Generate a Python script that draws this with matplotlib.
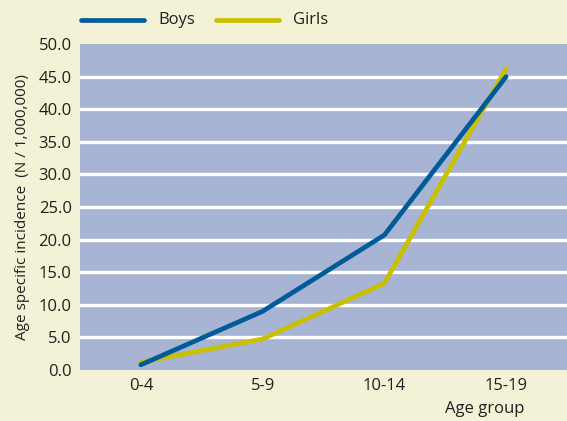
import numpy as np
import matplotlib.pyplot as plt

plt.rcParams['font.family'] = ['Open Sans', 'DejaVu Sans']

grupos = ['0-4', '5-9', '10-14', '15-19']
meninos = [0.8, 9.0, 20.7, 45.0]
meninas = [1.2, 4.75, 13.3, 46.2]

fundo = '#f3f1d6'
area = '#a7b4d3'
cor_boys = '#005b98'
cor_girls = '#c9c000'
texto = '#231f20'

fig = plt.figure(figsize=(5.67, 4.21), dpi=100, facecolor=fundo)
ax = fig.add_axes([80 / 567, 1 - 370 / 421, 487 / 567, 326 / 421])
ax.set_facecolor(area)

x = np.arange(len(grupos))
ax.plot(x, meninos, color=cor_boys, lw=3.4, solid_capstyle='round', zorder=3)
ax.plot(x, meninas, color=cor_girls, lw=3.4, solid_capstyle='round', zorder=2)

ax.set_xlim(-0.5, 3.5)
ax.set_ylim(0, 50)
ax.set_yticks(np.arange(0, 51, 5))
ax.set_yticklabels(['%.1f' % v for v in np.arange(0, 51, 5)], fontsize=12)
ax.set_xticks(x)
ax.set_xticklabels(grupos, fontsize=12)
for v in np.arange(5, 50, 5):
    ax.axhline(v, color='white', lw=2.4, zorder=1)

for s in ax.spines.values():
    s.set_visible(False)
ax.tick_params(length=0, pad=6, colors=texto)

ax.set_ylabel('Age specific incidence  (N / 1,000,000)', fontsize=11,
              color=texto, labelpad=6)
fig.text(485 / 567, 1 - 409 / 421, 'Age group', ha='center', va='center',
         fontsize=12, color=texto)

# legenda
fig.add_artist(plt.Line2D([81 / 567, 144 / 567], [1 - 20 / 421] * 2,
                          color=cor_boys, lw=3.4, solid_capstyle='round'))
fig.text(158 / 567, 1 - 20 / 421, 'Boys', va='center', fontsize=12,
         color=texto)
fig.add_artist(plt.Line2D([216 / 567, 279 / 567], [1 - 20 / 421] * 2,
                          color=cor_girls, lw=3.4, solid_capstyle='round'))
fig.text(293 / 567, 1 - 20 / 421, 'Girls', va='center', fontsize=12,
         color=texto)

fig.savefig('out.png', dpi=100, facecolor=fundo)
